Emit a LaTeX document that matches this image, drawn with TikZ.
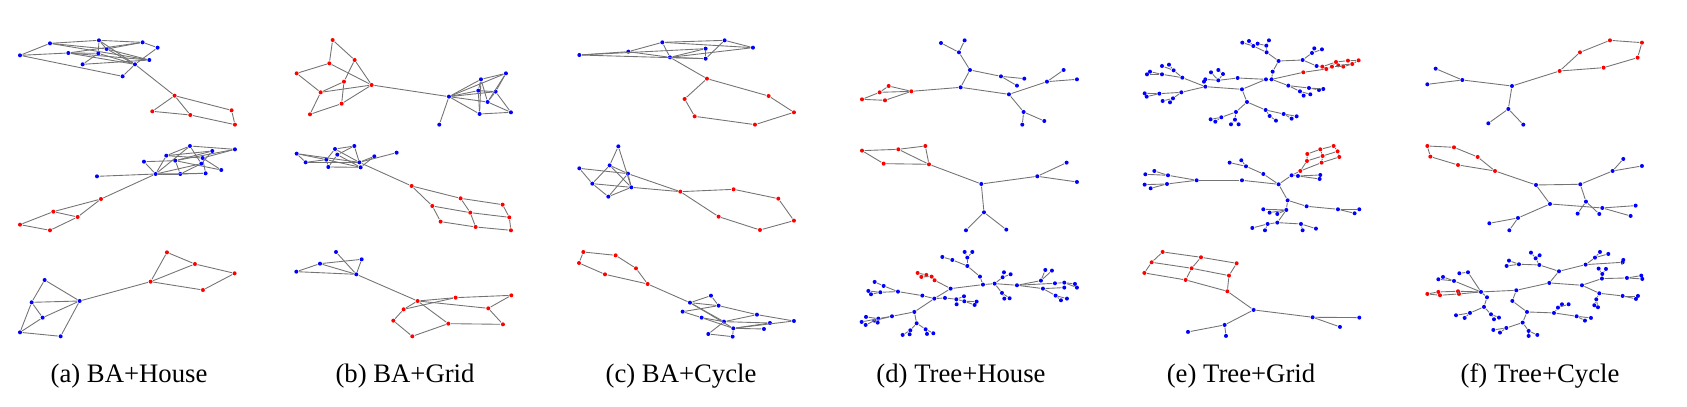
\documentclass[tikz,border=0pt]{standalone}
\usepackage{fontspec}
\setmainfont{Liberation Serif}
\usepackage{tikz}

\begin{document}
\begin{tikzpicture}[
  x=0.1mm, y=-0.1mm,
  bdot/.style = {circle, fill=blue, inner sep=0pt, minimum size=0.4mm},
  rdot/.style = {circle, fill=red, inner sep=0pt, minimum size=0.4mm},
  link/.style = {draw=black!55, line width=0.25pt},
  panel/.style 2 args = {xshift=#1*0.1mm, yshift=-#2*0.1mm, x=0.03333mm, y=-0.03333mm},
  caption/.style = {font=\fontsize{7.6}{9}\selectfont, inner sep=0pt}
    ]
  \useasboundingbox (0,0) rectangle (1687,406);

  % (a) BA+House
  \begin{scope}[panel={0}{30}]
    \foreach \i/\x/\y in {1/150/40, 2/297/31, 3/428/37, 4/473/53, 5/60/76, 6/205/69, 7/295/70,
      8/320/57, 9/448/90, 10/405/103, 11/248/103, 12/368/139}
      \node[bdot] (a1n\i) at (\x,\y) {};
    \foreach \i/\x/\y in {13/524/197, 14/457/244, 15/571/255, 16/695/241, 17/705/284}
      \node[rdot] (a1n\i) at (\x,\y) {};
    \foreach \u/\v in {1/2, 1/5, 1/8, 1/9, 2/3, 2/7, 2/8, 2/10, 3/4, 3/6, 3/8, 4/10, 5/6, 5/12,
      6/7, 6/9, 6/10, 7/11, 7/10, 8/10, 8/9, 11/9, 12/10, 10/13, 13/14, 13/15, 14/15, 13/16,
      15/17, 16/17}
      \draw[link] (a1n\u) -- (a1n\v);
  \end{scope}
  \begin{scope}[panel={0}{130}]
    \foreach \i/\x/\y in {1/570/48, 2/705/58, 3/499/77, 4/637/63, 5/526/92, 6/608/84, 7/432/95,
      8/604/101, 9/664/120, 10/467/132, 11/541/132, 12/617/130, 13/291/139}
      \node[bdot] (a2n\i) at (\x,\y) {};
    \foreach \i/\x/\y in {14/303/207, 15/160/245, 16/233/261, 17/60/284, 18/150/301}
      \node[rdot] (a2n\i) at (\x,\y) {};
    \foreach \u/\v in {1/2, 1/3, 1/8, 1/10, 2/5, 2/6, 3/4, 3/6, 3/10, 4/5, 4/8, 5/7, 5/11, 5/9,
      6/9, 6/12, 7/10, 8/10, 8/11, 10/11, 10/12, 11/12, 10/13, 10/14, 14/15, 14/16, 15/16,
      15/17, 16/18, 17/18}
      \draw[link] (a2n\u) -- (a2n\v);
  \end{scope}
  \begin{scope}[panel={0}{240}]
    \foreach \i/\x/\y in {1/134/120, 2/95/187, 3/239/183, 4/128/233, 5/60/277, 6/182/289}
      \node[bdot] (a3n\i) at (\x,\y) {};
    \foreach \i/\x/\y in {7/452/125, 8/501/37, 9/585/72, 10/704/100, 11/609/150}
      \node[rdot] (a3n\i) at (\x,\y) {};
    \foreach \u/\v in {1/2, 1/3, 2/3, 2/4, 2/5, 4/3, 5/4, 5/6, 6/3, 3/7, 7/8, 7/9, 8/9, 9/10,
      7/11, 10/11}
      \draw[link] (a3n\u) -- (a3n\v);
  \end{scope}

  % (b) BA+Grid
  \begin{scope}[panel={270}{30}]
    \foreach \i/\x/\y in {1/188/30, 2/178/100, 3/254/90, 4/80/130, 5/222/155, 6/305/165,
      7/152/187, 8/215/221, 9/120/253}
      \node[rdot] (b1n\i) at (\x,\y) {};
    \foreach \i/\x/\y in {10/537/200, 11/508/284, 12/633/148, 13/708/130, 14/625/182,
      15/677/185, 16/653/216, 17/629/252, 18/723/247}
      \node[bdot] (b1n\i) at (\x,\y) {};
    \foreach \u/\v in {1/2, 1/3, 2/4, 2/6, 3/5, 3/6, 4/7, 5/7, 5/8, 6/7, 6/8, 7/9, 8/9, 6/10,
      10/11, 10/12, 10/13, 10/14, 10/15, 10/16, 10/17, 12/13, 12/14, 12/16, 13/15, 13/16,
      14/15, 14/17, 15/16, 15/18, 16/18, 17/18, 12/17}
      \draw[link] (b1n\u) -- (b1n\v);
  \end{scope}
  \begin{scope}[panel={270}{130}]
    \foreach \i/\x/\y in {1/80/71, 2/195/57, 3/253/48, 4/107/97, 5/202/74, 6/169/89, 7/175/111,
      8/268/97, 9/272/112, 10/313/79, 11/380/68}
      \node[bdot] (b2n\i) at (\x,\y) {};
    \foreach \i/\x/\y in {12/425/168, 13/572/205, 14/698/224, 15/487/228, 16/601/248,
      17/718/262, 18/512/275, 19/617/291, 20/723/301}
      \node[rdot] (b2n\i) at (\x,\y) {};
    \foreach \u/\v in {1/4, 1/6, 1/8, 2/3, 2/5, 2/6, 2/8, 3/5, 3/8, 4/6, 4/8, 5/7, 5/9, 6/9,
      6/7, 7/9, 8/10, 8/11, 9/10, 8/12, 12/13, 13/14, 12/15, 13/16, 14/17, 15/16, 16/17,
      15/18, 16/19, 17/20, 18/19, 19/20}
      \draw[link] (b2n\u) -- (b2n\v);
  \end{scope}
  \begin{scope}[panel={270}{240}]
    \foreach \i/\x/\y in {1/198/36, 2/150/71, 3/275/58, 4/79/95, 5/259/103}
      \node[bdot] (b3n\i) at (\x,\y) {};
    \foreach \i/\x/\y in {6/443/183, 7/557/173, 8/724/166, 9/401/208, 10/655/205, 11/370/242,
      12/535/251, 13/699/253, 14/427/289}
      \node[rdot] (b3n\i) at (\x,\y) {};
    \foreach \u/\v in {1/5, 2/3, 2/4, 2/5, 3/5, 4/5, 5/6, 6/7, 6/9, 6/10, 6/12, 7/9, 7/8, 8/10,
      10/13, 9/11, 11/14, 14/12, 12/13}
      \draw[link] (b3n\u) -- (b3n\v);
  \end{scope}

  % (c) BA+Cycle
  \begin{scope}[panel={560}{30}]
    \foreach \i/\x/\y in {1/58/75, 2/205/65, 3/307/37, 4/437/56, 5/494/31, 6/579/53, 7/330/82,
      8/437/86}
      \node[bdot] (c1n\i) at (\x,\y) {};
    \foreach \i/\x/\y in {9/441/146, 10/374/207, 11/404/259, 12/585/284, 13/702/247, 14/626/198}
      \node[rdot] (c1n\i) at (\x,\y) {};
    \foreach \u/\v in {1/2, 1/4, 1/8, 2/3, 2/7, 3/5, 3/7, 3/6, 4/7, 4/8, 5/6, 5/8, 6/7, 7/8,
      7/9, 9/10, 10/11, 11/12, 12/13, 13/14, 14/9}
      \draw[link] (c1n\u) -- (c1n\v);
  \end{scope}
  \begin{scope}[panel={560}{130}]
    \foreach \i/\x/\y in {1/175/49, 2/58/115, 3/149/106, 4/204/131, 5/97/161, 6/214/172,
      7/145/200}
      \node[bdot] (c2n\i) at (\x,\y) {};
    \foreach \i/\x/\y in {8/361/185, 9/521/178, 10/655/206, 11/702/272, 12/600/300, 13/476/260}
      \node[rdot] (c2n\i) at (\x,\y) {};
    \foreach \u/\v in {1/3, 1/6, 2/4, 2/5, 3/4, 3/5, 3/6, 4/6, 4/7, 5/6, 5/7, 6/7, 4/8, 6/8,
      8/9, 9/10, 10/11, 11/12, 12/13, 13/8}
      \draw[link] (c2n\u) -- (c2n\v);
  \end{scope}
  \begin{scope}[panel={560}{240}]
    \foreach \i/\x/\y in {1/70/36, 2/167/46, 3/57/69, 4/228/85, 5/135/103, 6/263/132}
      \node[rdot] (c3n\i) at (\x,\y) {};
    \foreach \i/\x/\y in {7/390/188, 8/453/167, 9/476/197, 10/368/215, 11/425/233, 12/492/245,
      13/591/224, 14/630/249, 15/702/243, 16/520/265, 17/612/267, 18/445/282, 19/518/290}
      \node[bdot] (c3n\i) at (\x,\y) {};
    \foreach \u/\v in {1/2, 1/3, 2/4, 3/5, 5/6, 4/6, 6/7, 7/8, 7/9, 8/9, 7/12, 7/16, 9/13,
      10/11, 11/12, 11/16, 12/13, 12/14, 13/15, 15/16, 16/17, 12/18, 18/19, 16/19, 14/16, 9/10}
      \draw[link] (c3n\u) -- (c3n\v);
  \end{scope}

  % (d) Tree+House
  \begin{scope}[panel={840}{30}]
    \foreach \i/\x/\y in {1/303/39, 2/374/31, 3/357/67, 4/390/120, 5/483/139, 6/553/146,
      7/531/167, 8/362/172, 9/507/193, 10/621/155, 11/671/120, 12/711/148, 13/551/246,
      14/613/273, 15/547/284}
      \node[bdot] (d1n\i) at (\x,\y) {};
    \foreach \i/\x/\y in {16/146/168, 17/119/187, 18/214/184, 19/66/208, 20/135/211}
      \node[rdot] (d1n\i) at (\x,\y) {};
    \foreach \u/\v in {1/3, 2/3, 3/4, 4/5, 5/6, 5/7, 4/8, 8/9, 9/10, 10/11, 10/12, 9/13, 13/14,
      13/15, 8/18, 16/18, 17/18, 16/17, 17/19, 19/20, 20/18}
      \draw[link] (d1n\u) -- (d1n\v);
  \end{scope}
  \begin{scope}[panel={840}{30}]
    \foreach \i/\x/\y in {1/66/362, 2/175/358, 3/256/348, 4/131/401, 5/267/403}
      \node[rdot] (d2n\i) at (\x,\y) {};
    \foreach \i/\x/\y in {6/424/462, 7/592/439, 8/680/398, 9/711/456, 10/432/547, 11/378/601,
      12/499/599}
      \node[bdot] (d2n\i) at (\x,\y) {};
    \foreach \u/\v in {1/2, 2/3, 3/5, 2/5, 1/4, 4/5, 5/6, 6/7, 7/8, 7/9, 6/10, 10/11, 10/12}
      \draw[link] (d2n\u) -- (d2n\v);
  \end{scope}
  \begin{scope}[panel={840}{30}]
    \foreach \i/\x/\y in {1/332/776, 2/429/764, 3/464/761, 4/531/766, 5/420/740, 6/382/708,
      7/337/690, 8/307/681, 9/382/683, 10/374/666, 11/397/666, 12/488/742, 13/492/727,
      14/512/733, 15/486/789, 16/493/806, 17/509/805, 18/603/752, 19/616/720, 20/636/722,
      21/645/760, 22/673/758, 23/705/762, 24/711/773, 25/673/773, 26/609/776, 27/647/797,
      28/681/806, 29/663/811, 30/283/806, 31/247/797, 32/174/785, 33/121/787, 34/85/783,
      35/93/793, 36/104/756, 37/131/768, 38/315/804, 39/349/808, 40/372/799, 41/350/823,
      42/373/814, 43/404/825, 44/410/815, 45/223/846, 46/156/859, 47/115/866, 48/78/861,
      49/65/876, 50/77/885, 51/103/872, 52/113/878, 53/230/880, 54/211/901, 55/188/915,
      56/209/913, 57/257/898, 58/280/910, 59/261/912}
      \node[bdot] (d3n\i) at (\x,\y) {};
    \foreach \i/\x/\y in {60/233/729, 61/244/741, 62/259/735, 63/275/740, 64/284/751}
      \node[rdot] (d3n\i) at (\x,\y) {};
    \foreach \u/\v in {1/2, 2/3, 3/4, 2/5, 5/6, 6/7, 7/8, 6/9, 9/10, 9/11, 3/12, 12/13, 12/14,
      3/15, 15/16, 15/17, 4/18, 18/19, 18/20, 4/21, 21/22, 22/23, 22/24, 4/26, 26/25, 26/27,
      27/28, 27/29, 1/30, 30/31, 31/32, 32/33, 33/34, 33/35, 32/37, 37/36, 30/38, 38/39,
      39/40, 39/41, 39/42, 42/43, 42/44, 30/45, 45/46, 46/47, 47/48, 47/49, 47/50, 46/51,
      51/52, 45/53, 53/54, 54/55, 54/56, 53/57, 57/58, 57/59, 60/61, 60/62, 61/62, 62/63,
      61/63, 63/64, 64/1}
      \draw[link] (d3n\u) -- (d3n\v);
  \end{scope}

  % (e) Tree+Grid
  \begin{scope}[panel={1120}{30}]
    \foreach \i/\x/\y in {1/366/178, 2/438/148, 3/455/148, 4/458/125, 5/476/93, 6/440/67,
      7/439/47, 8/447/31, 9/413/41, 10/400/48, 11/387/33, 12/367/38, 13/548/90, 14/576/69,
      15/583/55, 16/606/58, 17/590/108, 18/505/167, 19/540/184, 20/551/197, 21/571/193,
      22/567/174, 23/610/177, 24/597/180, 25/381/216, 26/348/246, 27/345/269, 28/333/283,
      29/356/283, 30/304/262, 31/272/268, 32/286/275, 33/437/240, 34/449/258, 35/468/272,
      36/491/252, 37/515/266, 38/530/259, 39/256/170, 40/187/143, 41/161/121, 42/147/104,
      43/126/108, 44/126/133, 45/90/125, 46/81/133, 47/184/187, 48/118/191, 49/74/190,
      50/80/200, 51/159/205, 52/150/217, 53/128/213, 54/295/151, 55/353/144, 56/309/132,
      57/295/120, 58/273/127, 59/256/148, 60/252/155}
      \node[bdot] (e1n\i) at (\x,\y) {};
    \foreach \i/\x/\y in {61/550/127, 62/607/110, 63/619/117, 64/636/110, 65/648/96,
      66/655/106, 67/670/110, 68/684/92, 69/697/102, 70/716/91}
      \node[rdot] (e1n\i) at (\x,\y) {};
    \foreach \u/\v in {1/2, 2/3, 3/4, 4/5, 5/6, 6/7, 7/8, 7/9, 6/10, 10/11, 10/12, 5/13, 13/14,
      14/15, 14/16, 13/17, 3/18, 18/19, 19/20, 19/21, 18/22, 22/23, 22/24, 1/25, 25/26, 26/27,
      27/28, 27/29, 26/30, 30/31, 30/32, 25/33, 33/34, 34/35, 33/36, 36/37, 36/38, 1/39,
      39/40, 40/41, 41/42, 41/43, 40/44, 44/45, 44/46, 39/47, 47/48, 48/49, 48/50, 47/51,
      51/52, 51/53, 2/55, 55/54, 54/56, 56/57, 54/58, 54/59, 59/60, 3/61, 61/63, 17/62,
      62/63, 62/65, 63/64, 64/65, 64/67, 65/68, 66/67, 66/69, 67/69, 68/70, 69/70, 65/66}
      \draw[link] (e1n\u) -- (e1n\v);
  \end{scope}
  \begin{scope}[panel={1120}{30}]
    \foreach \i/\x/\y in {1/641/348, 2/601/358, 3/562/372, 4/653/364, 5/608/378, 6/561/393,
      7/658/381, 8/605/398, 9/541/423}
      \node[rdot] (e2n\i) at (\x,\y) {};
    \foreach \i/\x/\y in {10/515/436, 11/476/463, 12/430/432, 13/366/451, 14/230/451,
      15/141/462, 16/74/464, 17/92/475, 18/144/436, 19/103/423, 20/76/433, 21/378/409,
      22/364/391, 23/329/398, 24/534/438, 25/601/435, 26/599/447, 27/503/511, 28/560/529,
      29/654/538, 30/718/538, 31/704/550, 32/499/540, 33/430/538, 34/472/552, 35/449/548,
      36/472/578, 37/443/582, 38/397/594, 39/435/601, 40/543/582, 41/548/601, 42/588/596}
      \node[bdot] (e2n\i) at (\x,\y) {};
    \foreach \u/\v in {1/2, 2/3, 4/5, 5/6, 7/8, 8/9, 1/4, 4/7, 2/5, 5/8, 3/6, 6/9, 9/10,
      10/11, 10/24, 24/25, 24/26, 11/12, 12/21, 21/22, 21/23, 11/13, 13/14, 14/15, 15/16,
      15/17, 14/18, 18/19, 18/20, 11/27, 27/28, 28/29, 29/30, 29/31, 27/32, 32/33, 32/34,
      32/35, 32/36, 36/37, 37/38, 37/39, 36/40, 40/41, 40/42}
      \draw[link] (e2n\u) -- (e2n\v);
  \end{scope}
  \begin{scope}[panel={1120}{30}]
    \foreach \i/\x/\y in {1/128/666, 2/243/682, 3/350/700, 4/95/697, 5/215/715, 6/327/737,
      7/73/729, 8/197/750, 9/322/784}
      \node[rdot] (e3n\i) at (\x,\y) {};
    \foreach \i/\x/\y in {10/401/840, 11/314/885, 12/204/906, 13/318/918, 14/578/862,
      15/718/863, 16/660/891}
      \node[bdot] (e3n\i) at (\x,\y) {};
    \foreach \u/\v in {1/2, 2/3, 4/5, 5/6, 7/8, 8/9, 1/4, 4/7, 2/5, 5/8, 3/6, 6/9, 9/10, 10/11,
      11/12, 11/13, 10/14, 14/15, 14/16}
      \draw[link] (e3n\u) -- (e3n\v);
  \end{scope}

  % (f) Tree+Cycle
  \begin{scope}[panel={1400}{30}]
    \foreach \i/\x/\y in {1/336/168, 2/187/150, 3/107/116, 4/82/163, 5/325/237, 6/265/280,
      7/370/284}
      \node[bdot] (f1n\i) at (\x,\y) {};
    \foreach \i/\x/\y in {8/479/123, 9/540/67, 10/630/31, 11/726/38, 12/713/83, 13/611/113}
      \node[rdot] (f1n\i) at (\x,\y) {};
    \foreach \u/\v in {1/2, 2/3, 2/4, 1/5, 5/6, 5/7, 1/8, 8/9, 9/10, 10/11, 11/12, 12/13, 13/8}
      \draw[link] (f1n\u) -- (f1n\v);
  \end{scope}
  \begin{scope}[panel={1400}{30}]
    \foreach \i/\x/\y in {1/82/348, 2/162/352, 3/233/381, 4/285/423, 5/174/405, 6/91/380}
      \node[rdot] (f2n\i) at (\x,\y) {};
    \foreach \i/\x/\y in {7/408/465, 8/541/463, 9/450/522, 10/638/423, 11/670/387, 12/726/408,
      13/558/515, 14/533/551, 15/598/552, 16/607/534, 17/707/527, 18/692/558, 19/354/564,
      20/268/580, 21/328/601}
      \node[bdot] (f2n\i) at (\x,\y) {};
    \foreach \u/\v in {1/2, 2/3, 3/4, 4/5, 5/6, 6/1, 4/7, 7/8, 7/9, 8/10, 10/11, 10/12, 8/13,
      13/14, 13/15, 9/16, 16/17, 16/18, 9/19, 19/20, 19/21}
      \draw[link] (f2n\u) -- (f2n\v);
  \end{scope}
  \begin{scope}[panel={1400}{30}]
    \foreach \i/\x/\y in {1/349/781, 2/448/759, 3/477/724, 4/418/705, 5/357/703, 6/327/692,
      7/320/708, 8/407/685, 9/393/668, 10/419/676, 11/557/704, 12/585/683, 13/600/666,
      14/625/672, 15/668/697, 16/670/690, 17/546/766, 18/606/746, 19/607/732, 20/596/716,
      21/618/717, 22/681/744, 23/724/737, 24/727/747, 25/598/790, 26/589/808, 27/583/826,
      28/594/832, 29/668/798, 30/714/798, 31/708/807, 32/243/786, 33/261/802, 34/204/727,
      35/178/730, 36/162/753, 37/129/741, 38/115/748, 39/337/813, 40/381/846, 41/462/849,
      42/530/859, 43/555/872, 44/573/864, 45/474/833, 46/486/823, 47/506/823, 48/368/878,
      49/319/894, 50/300/908, 51/280/900, 52/386/903, 53/386/918, 54/412/915, 55/252/831,
      56/210/849, 57/168/856, 58/194/864, 59/273/853, 60/297/863, 61/282/868}
      \node[bdot] (f3n\i) at (\x,\y) {};
    \foreach \i/\x/\y in {62/174/784, 63/177/792, 64/115/786, 65/120/796, 66/82/792}
      \node[rdot] (f3n\i) at (\x,\y) {};
    \foreach \u/\v in {1/2, 2/3, 3/4, 4/5, 5/6, 5/7, 4/8, 8/9, 8/10, 3/11, 11/12, 12/13, 12/14,
      11/15, 15/16, 2/17, 17/18, 18/19, 19/20, 19/21, 18/22, 22/23, 22/24, 17/25, 25/26,
      26/27, 26/28, 25/29, 29/30, 29/31, 1/32, 32/33, 32/34, 34/35, 32/36, 36/37, 36/38,
      1/39, 39/40, 40/41, 41/45, 45/46, 45/47, 41/42, 42/43, 42/44, 40/48, 48/49, 49/50,
      49/51, 48/52, 52/53, 52/54, 33/55, 55/56, 56/57, 56/58, 55/59, 59/60, 59/61, 32/62,
      32/63, 62/63, 62/64, 63/65, 64/66, 65/66}
      \draw[link] (f3n\u) -- (f3n\v);
  \end{scope}

  % captions
  \node[caption] (capA) at (129,376) {(a) BA+House};
  \node[caption] (capB) at (405,376) {(b) BA+Grid};
  \node[caption] (capC) at (681,376) {(c) BA+Cycle};
  \node[caption] (capD) at (961,376) {(d) Tree+House};
  \node[caption] (capE) at (1241,376) {(e) Tree+Grid};
  \node[caption] (capF) at (1540,376) {(f) Tree+Cycle};
\end{tikzpicture}
\end{document}
